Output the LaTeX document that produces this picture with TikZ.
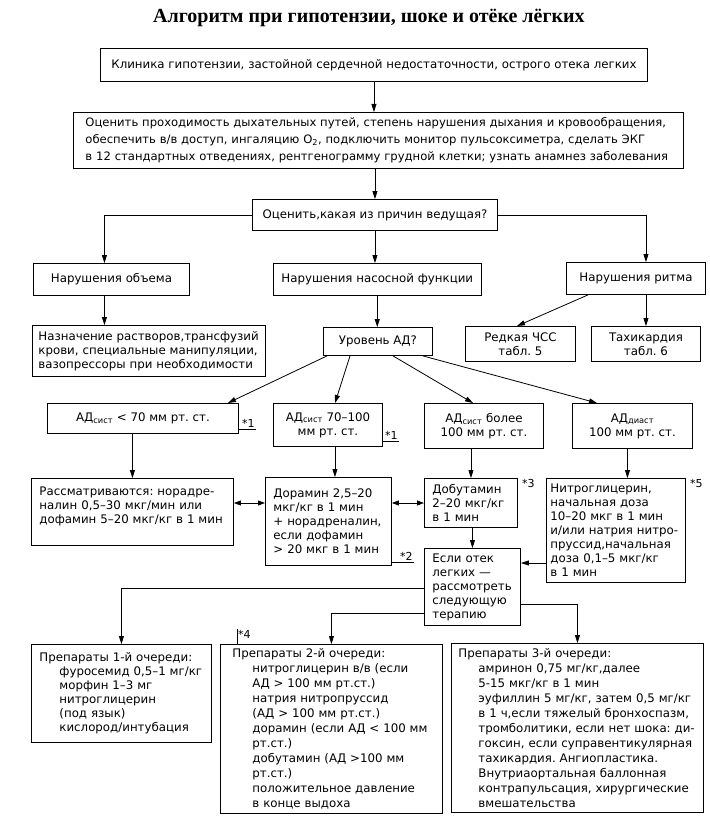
\documentclass[tikz,border=0pt]{standalone}
\usepackage{fontspec}
\setmainfont{DejaVu Sans}
\newfontfamily\titlefont{Liberation Serif}
\usetikzlibrary{arrows.meta}

\tikzset{
  box/.style={draw, line width=0.9pt, anchor=north west, inner xsep=8pt, inner ysep=2pt,
    align=left, font=\fontsize{11.8}{14}\selectfont},
  cbox/.style={box, align=center},
  arr/.style={-{Triangle[length=8pt,width=5pt]}, line width=0.8pt},
  darr/.style={{Triangle[length=7pt,width=5pt]}-{Triangle[length=7pt,width=5pt]}, line width=0.8pt},
  note/.style={font=\fontsize{11}{12}\selectfont, inner sep=1pt},
}
\newcommand{\indnt}{\hspace*{20pt}}
\frenchspacing

\begin{document}
\begin{tikzpicture}[x=1pt, y=-1pt]
    \useasboundingbox (0,0) rectangle (709,837);
    \node (title) at (369,18) {\titlefont\bfseries\fontsize{20}{22}\selectfont Алгоритм при гипотензии, шоке и отёке лёгких};

    % top row
    \node[cbox, minimum width=547, minimum height=33] (clin) at (100,48) {Клиника гипотензии, застойной сердечной недостаточности, острого отека легких};
    \node[box, minimum width=610, minimum height=56, text width=586pt, inner xsep=12pt, font=\fontsize{11.6}{17}\selectfont] (assess) at (73,112) {Оценить проходимость дыхательных путей, степень нарушения дыхания и кровообращения,\\обеспечить в/в доступ, ингаляцию O\textsubscript{2}, подключить монитор пульсоксиметра, сделать ЭКГ\\в 12 стандартных отведениях, рентгенограмму грудной клетки; узнать анамнез заболевания};
    \node[cbox, minimum width=245, minimum height=31] (reason) at (252,199) {Оценить,какая из причин ведущая?};

    % causes
    \node[cbox, minimum width=156, minimum height=32] (vol) at (33,263) {Нарушения объема};
    \node[cbox, minimum width=205, minimum height=32] (pump) at (273,263) {Нарушения насосной функции};
    \node[cbox, minimum width=139, minimum height=32] (rhythm) at (566,262) {Нарушения ритма};
    \node[box, minimum width=233, minimum height=51, text width=221pt, inner xsep=6pt] (fluids) at (32,325) {Назначение растворов,трансфузий\\крови, специальные манипуляции,\\вазопрессоры при необходимости};
    \node[cbox, minimum width=109, minimum height=28] (lvl) at (323,327) {Уровень АД?};
    \node[cbox, minimum width=110, minimum height=35] (brady) at (465,326) {Редкая ЧСС\\табл. 5};
    \node[cbox, minimum width=109, minimum height=35] (tachy) at (591,326) {Тахикардия\\табл. 6};

    % pressure levels
    \node[cbox, minimum width=191, minimum height=30] (s70) at (47,403) {АД\textsubscript{сист} < 70 мм рт. ст.};
    \node[cbox, minimum width=109, minimum height=43] (s70100) at (273,403) {АД\textsubscript{сист} 70–100\\мм рт. ст.};
    \node[cbox, minimum width=119, minimum height=45] (s100) at (424,403) {АД\textsubscript{сист} более\\100 мм рт. ст.};
    \node[cbox, minimum width=120, minimum height=45] (dia) at (572,403) {АД\textsubscript{диаст}\\100 мм рт. ст.};

    % drugs
    \node[box, minimum width=202, minimum height=67, text width=186pt] (nora) at (31,478) {Рассматриваются: норадре-\\налин 0,5–30 мкг/мин или\\дофамин 5–20 мкг/кг в 1 мин\\\mbox{}};
    \node[box, minimum width=126, minimum height=88, text width=110pt] (dopa) at (265,477) {Дорамин 2,5–20\\мкг/кг в 1 мин\\+ норадреналин,\\если дофамин\\> 20 мкг в 1 мин};
    \node[box, minimum width=93, minimum height=49, text width=77pt] (dobu) at (424,478) {Добутамин\\2–20 мкг/кг\\в 1 мин};
    \node[box, minimum width=139, minimum height=104, text width=131pt, inner xsep=4pt] (nitro) at (546,478) {Нитроглицерин,\\начальная доза\\10–20 мкг в 1 мин\\и/или натрия нитро-\\пруссид,начальная\\доза 0,1–5 мкг/кг\\в 1 мин};
    \node[box, minimum width=96, minimum height=77, text width=80pt] (edema) at (424,548) {Если отек\\легких —\\рассмотреть\\следующую\\терапию};

    % lines of therapy
    \node[box, minimum width=180, minimum height=98, text width=164pt] (first) at (31,644) {Препараты 1-й очереди:\\\indnt фуросемид 0,5–1 мг/кг\\\indnt морфин 1–3 мг\\\indnt нитроглицерин\\\indnt (под язык)\\\indnt кислород/интубация};
    \node[box, minimum width=222, minimum height=169, text width=198pt, inner xsep=12pt, font=\fontsize{11.8}{15}\selectfont] (second) at (220,644) {Препараты 2-й очереди:\\\indnt нитроглицерин в/в (если\\\indnt АД > 100 мм рт.ст.)\\\indnt натрия нитропруссид\\\indnt (АД > 100 мм рт.ст.)\\\indnt дорамин (если АД < 100 мм\\\indnt рт.ст.)\\\indnt добутамин (АД >100 мм\\\indnt рт.ст.)\\\indnt положительное давление\\\indnt в конце выдоха};
    \node[box, minimum width=252, minimum height=169, text width=238pt, inner xsep=7pt, font=\fontsize{11.8}{15}\selectfont] (third) at (451,643) {Препараты 3-й очереди:\\\indnt амринон 0,75 мг/кг,далее\\\indnt 5-15 мкг/кг в 1 мин\\\indnt эуфиллин 5 мг/кг, затем 0,5 мг/кг\\\indnt в 1 ч,если тяжелый бронхоспазм,\\\indnt тромболитики, если нет шока: ди-\\\indnt гоксин, если суправентикулярная\\\indnt тахикардия. Ангиопластика.\\\indnt Внутриаортальная баллонная\\\indnt контрапульсация, хирургические\\\indnt вмешательства};

    % connectors
    \draw[arr] (clin.south) -- (clin.south |- assess.north);
    \draw[arr] (reason.north |- assess.south) -- (reason.north);
    \draw[arr] (reason.west) -| ([xshift=-7pt]vol.north);
    \draw[arr] (reason.south) -- (reason.south |- pump.north);
    \draw[arr] (reason.east) -| ([xshift=10pt]rhythm.north);
    \draw[arr] ([xshift=-7pt]vol.south) -- ([xshift=-7pt]vol.south |- fluids.north);
    \draw[arr] (pump.south) -- (pump.south |- lvl.north);
    \draw[arr] ([xshift=22pt]rhythm.south west) -- ([xshift=52pt]brady.north west);
    \draw[arr] (tachy.north |- rhythm.south) -- (tachy.north);

    \draw[arr] ([xshift=4pt]lvl.south west) -- ([xshift=-11pt]s70.north east);
    \draw[arr] ([xshift=27pt]lvl.south west) -- ([xshift=62pt]s70100.north west);
    \draw[arr] ([xshift=70pt]lvl.south west) -- ([xshift=49pt]s100.north west);
    \draw[arr] ([xshift=-10pt]lvl.south east) -- ([xshift=25pt]dia.north west);

    \draw[arr] (nora.north |- s70.south) -- (nora.north);
    \draw[arr] ([xshift=7pt]s70100.south) -- ([xshift=7pt]s70100.south |- dopa.north);
    \draw[arr] (dobu.north |- s100.south) -- (dobu.north);
    \draw[arr] ([xshift=-5pt]dia.south) -- ([xshift=-5pt]dia.south |- nitro.north);

    \coordinate (nd) at ([yshift=-25pt]nora.north east);
    \draw[darr] (nd) -- (nd -| dopa.west);
    \draw[darr] (nd -| dopa.east) -- (nd -| dobu.west);
    \draw[arr] (edema.north |- dobu.south) -- (edema.north);
    \coordinate (ne) at ([yshift=-15pt]edema.north east);
    \draw[arr] (ne -| nitro.west) -- (ne);

    \draw[arr] ([yshift=-40pt]edema.north west) -| (first.north);
    \draw[arr] ([yshift=-65pt]edema.north west) -| (second.north);
    \draw[arr] ([yshift=-56pt]edema.north east) -| (third.north);

    % footnote marks
    \draw ([yshift=5pt]s70.south east) -- ++(17,0) node[note, anchor=south east] (m1a) {*1};
    \draw ([yshift=6pt]s70100.south east) -- ++(16,0) node[note, anchor=south east] (m1b) {*1};
    \draw ([yshift=4pt]dopa.south east) -- ++(22,0) node[note, anchor=south east] (m2) {*2};
    \node[note, anchor=north west] (m3) at ([xshift=3pt]dobu.north east) {*3};
    \node[note, anchor=north west] (m5) at ([xshift=3pt]nitro.north east) {*5};
    \draw ([xshift=17pt]second.north west) -- ++(0,-15) node[note, anchor=north west] (m4) {*4};
\end{tikzpicture}
\end{document}
